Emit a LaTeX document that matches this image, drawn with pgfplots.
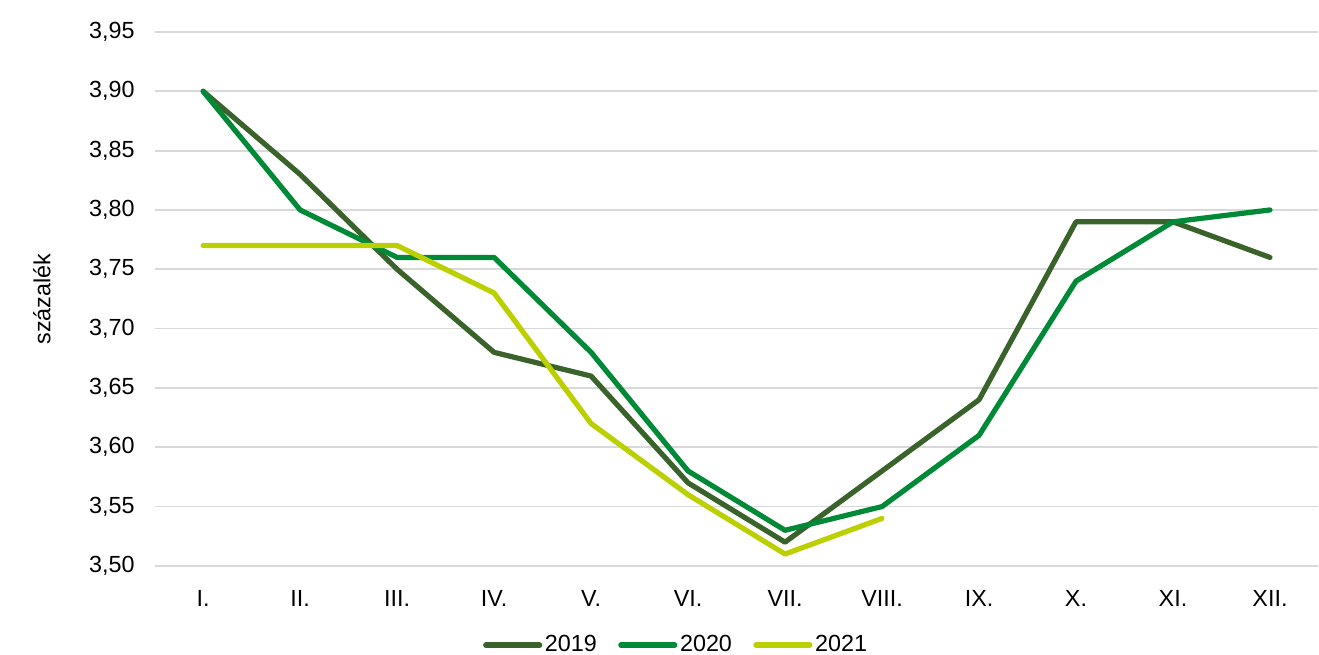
\documentclass[border=0pt]{standalone}
\usepackage{fontspec}
\setmainfont{Liberation Sans}
\usepackage{pgfplots}
\pgfplotsset{compat=1.18}
\definecolor{c19}{HTML}{3A632C}
\definecolor{c20}{HTML}{008A38}
\definecolor{c21}{HTML}{BCCF00}
\definecolor{gridgray}{HTML}{D9D9D9}
\begin{document}
\fontsize{17.5}{21}\selectfont
\begin{tikzpicture}
\useasboundingbox (-116pt,-66.75pt) rectangle (873.4pt,424.5pt);
\begin{axis}[
  at={(0,0)}, anchor=south west,
  scale only axis, width=873pt, height=400.5pt,
  xmin=-0.5, xmax=11.5, ymin=3.5, ymax=3.95,
  xtick={0,...,11},
  xticklabels={I.,II.,III.,IV.,V.,VI.,VII.,VIII.,IX.,X.,XI.,XII.},
  ytick={3.5,3.55,...,3.96},
  /pgf/number format/fixed, /pgf/number format/fixed zerofill, /pgf/number format/precision=2, /pgf/number format/use comma, /pgf/number format/assume math mode=true,
  xmajorgrids=false, ymajorgrids=true,
  y grid style={draw=gridgray, line width=1.3pt},
  axis line style={draw=none},
  major tick length=0pt,
  xticklabel style={yshift=-12pt},
  yticklabel style={xshift=-9pt},
  ylabel={százalék},
  ylabel style={at={(axis description cs:0,0.5)}, anchor=south, yshift=72pt},
  tick label style={font=\fontsize{17.5}{21}\selectfont, text=black},
  label style={font=\fontsize{17.5}{21}\selectfont},
  legend style={draw=none, at={(axis cs:4.88,3.5)}, anchor=center, yshift=-59.5pt, legend columns=-1, font=\fontsize{17.5}{21}\selectfont, /tikz/every even column/.append style={column sep=14pt}},
  legend image code/.code={\draw[#1, line width=4.4pt, line cap=round] (0pt,0pt) -- (40pt,0pt);},
  every axis plot/.append style={line width=3.9pt, line cap=round, line join=round, mark=none},
]
\addplot[c19] coordinates {(0,3.90) (1,3.83) (2,3.75) (3,3.68) (4,3.66) (5,3.57) (6,3.52) (7,3.58) (8,3.64) (9,3.79) (10,3.79) (11,3.76)};
\addplot[c20] coordinates {(0,3.90) (1,3.80) (2,3.76) (3,3.76) (4,3.68) (5,3.58) (6,3.53) (7,3.55) (8,3.61) (9,3.74) (10,3.79) (11,3.80)};
\addplot[c21] coordinates {(0,3.77) (1,3.77) (2,3.77) (3,3.73) (4,3.62) (5,3.56) (6,3.51) (7,3.54)};
\legend{2019,2020,2021}
\end{axis}
\end{tikzpicture}
\end{document}
